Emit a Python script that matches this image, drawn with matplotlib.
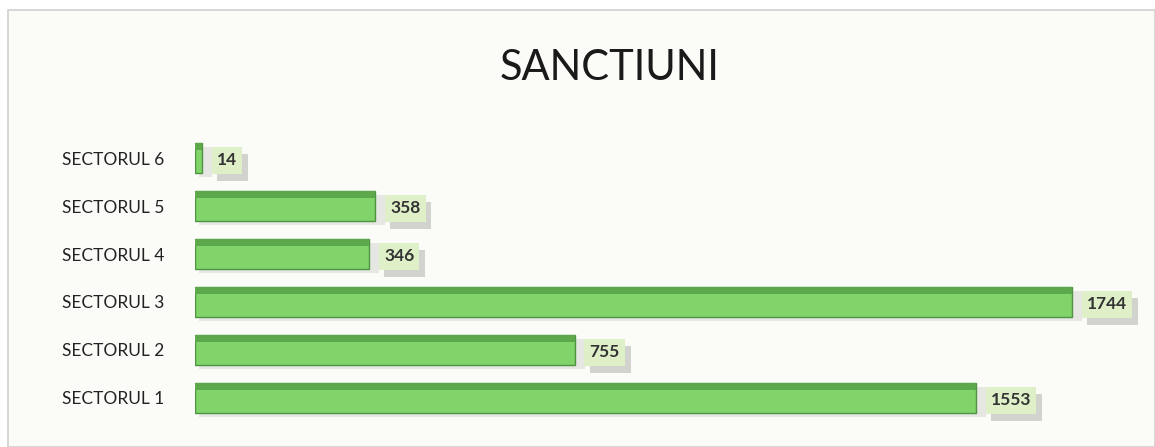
import matplotlib.pyplot as plt
import matplotlib.patheffects as pe
from matplotlib.patches import Rectangle

plt.rcParams["font.family"] = ["Lato", "DejaVu Sans"]

categories = ["SECTORUL 1", "SECTORUL 2", "SECTORUL 3",
              "SECTORUL 4", "SECTORUL 5", "SECTORUL 6"]
values = [1553, 755, 1744, 346, 358, 14]

front_color = "#80d46a"
top_color = "#5ea84c"
edge_color = "#4f9440"

fig = plt.figure(figsize=(11.55, 4.47), dpi=100, facecolor="white")
fig.patches.append(Rectangle((8 / 1155, 0), 1 - 8 / 1155, 1 - 10 / 447,
                             transform=fig.transFigure, facecolor="#fbfbf8",
                             edgecolor="#d0d0d0", linewidth=1.2, zorder=-10))

ax = fig.add_axes([195 / 1155, 25 / 447, 935 / 1155, 288 / 447])
ax.set_facecolor("none")

ypos = list(range(len(categories)))
h = 0.62

# soft shadow
ax.barh([y - 0.08 for y in ypos], [v + 12 for v in values], height=h,
        left=8, color="#d9d9d6", alpha=0.6, zorder=1)
# front face
ax.barh(ypos, values, height=h, color=front_color, edgecolor=edge_color,
        linewidth=1.0, zorder=2)
# top face (3d look)
ax.barh([y + h / 2 - 0.07 for y in ypos], values, height=0.14,
        color=top_color, linewidth=0, zorder=3)

for y, v in zip(ypos, values):
    t = ax.text(v + 30, y - 0.05, str(v), ha="left", va="center",
                fontsize=12.5, fontweight="bold", color="#333333", zorder=5,
                bbox=dict(boxstyle="square,pad=0.3", facecolor="#dff0c8",
                          edgecolor="none"))
    t.get_bbox_patch().set_path_effects([
        pe.SimplePatchShadow(offset=(4, -5), shadow_rgbFace="#c8c8c5",
                             alpha=0.8),
        pe.Normal()])

ax.set_xlim(0, 1860)
ax.set_ylim(-0.5, 5.5)
ax.set_yticks(ypos)
ax.set_yticklabels(categories, fontsize=12.5, color="#222222")
ax.tick_params(axis="y", length=0, pad=22)
ax.set_xticks([])
for s in ax.spines.values():
    s.set_visible(False)

fig.text(610 / 1155, 1 - 68 / 447, "SANCTIUNI", ha="center", va="center",
         fontsize=30, color="#1a1a1a")

fig.savefig("out.png", dpi=100, facecolor=fig.get_facecolor())
